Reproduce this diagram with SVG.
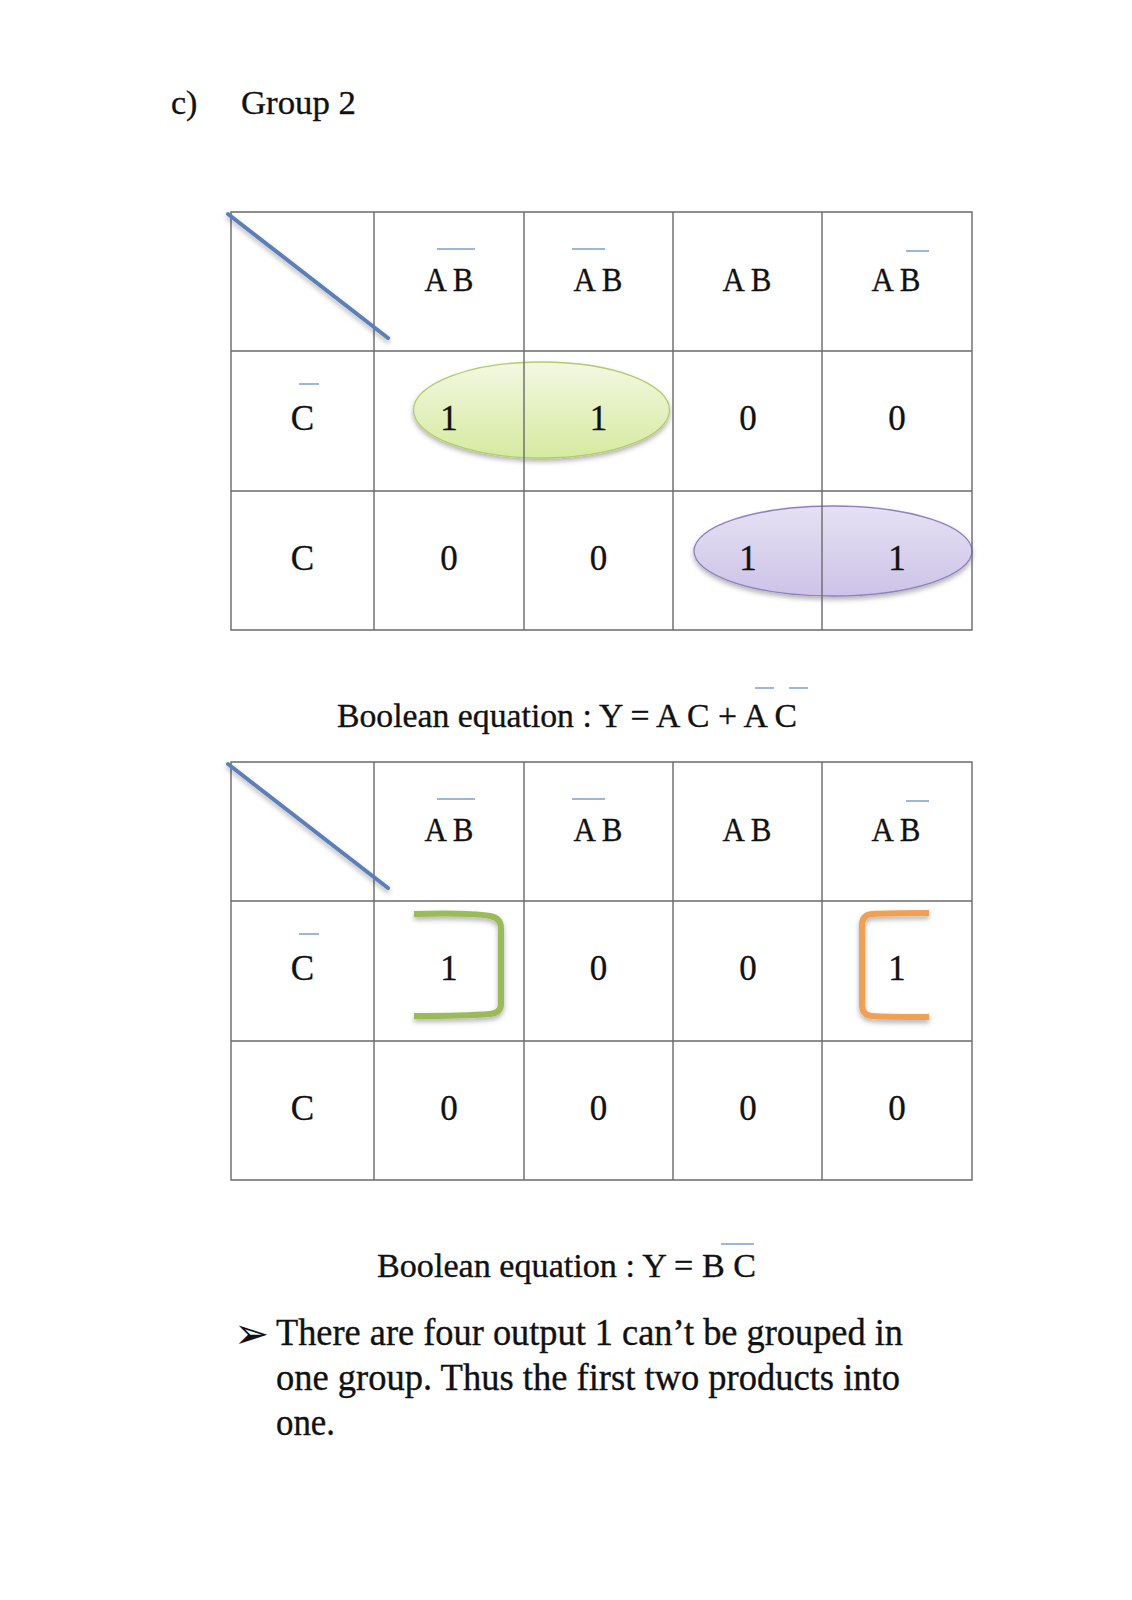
<svg xmlns="http://www.w3.org/2000/svg" width="1132" height="1600" viewBox="0 0 1132 1600">
<style>
.t{font-family:"Liberation Serif","Times New Roman",serif;fill:#111;stroke:#111;stroke-width:0.35}
.cell{font-size:35px;text-anchor:middle}
.hdr{font-size:34px;text-anchor:middle}
.grid{fill:none;stroke:#6a6a6a;stroke-width:1.4}
.ov{stroke:#7d9fcf;stroke-width:1.6;fill:none}
.diag{stroke:#5b7fb8;stroke-width:4;stroke-linecap:round;fill:none}
.eq{font-size:34px}
.body{font-size:37px}
</style>
<defs>
<linearGradient id="gG" x1="0" y1="0" x2="0" y2="1">
<stop offset="0" stop-color="#f3f8e2"/>
<stop offset="1" stop-color="#d6eaa0"/>
</linearGradient>
<linearGradient id="gP" x1="0" y1="0" x2="0" y2="1">
<stop offset="0" stop-color="#e6e1f3"/>
<stop offset="1" stop-color="#cdc3e8"/>
</linearGradient>
<filter id="sh" x="-20%" y="-20%" width="140%" height="150%">
<feDropShadow dx="0" dy="3" stdDeviation="2.5" flood-color="#000" flood-opacity="0.3"/>
</filter>
</defs>
<rect width="1132" height="1600" fill="#fff"/>

<g id="title">
<text class="t" x="171" y="114" font-size="34">c)</text>
<text class="t" x="241" y="114" font-size="34" textLength="115" lengthAdjust="spacingAndGlyphs">Group 2</text>
</g>

<g id="kmap1">
<ellipse cx="541.5" cy="410" rx="128" ry="48" fill="url(#gG)" stroke="#b3cc6a" stroke-width="1.3" filter="url(#sh)"/>
<ellipse cx="833" cy="551" rx="139" ry="45" fill="url(#gP)" stroke="#8c80c0" stroke-width="1.3" filter="url(#sh)"/>
<path class="grid" d="M231 212H972V630H231Z M374 212V630 M524 212V630 M673 212V630 M822 212V630 M231 351H972 M231 491H972"/>
<line class="diag" x1="228" y1="214" x2="388" y2="338" filter="url(#sh)"/>
<g class="t hdr">
<text x="449" y="291" textLength="49" lengthAdjust="spacingAndGlyphs">A B</text>
<text x="598" y="291" textLength="49" lengthAdjust="spacingAndGlyphs">A B</text>
<text x="747" y="291" textLength="49" lengthAdjust="spacingAndGlyphs">A B</text>
<text x="896" y="291" textLength="49" lengthAdjust="spacingAndGlyphs">A B</text>
</g>
<path class="ov" d="M437 249H475 M572 249H605 M906 251H929 M299 384H319"/>
<g class="t cell">
<text x="302.5" y="430">C</text>
<text x="302.5" y="570">C</text>
<text x="449" y="430">1</text>
<text x="598.5" y="430">1</text>
<text x="748" y="430">0</text>
<text x="897" y="430">0</text>
<text x="449" y="570">0</text>
<text x="598.5" y="570">0</text>
<text x="748" y="570">1</text>
<text x="897" y="570">1</text>
</g>
</g>

<g id="equation1">
<text class="t eq" x="337" y="727" textLength="460" lengthAdjust="spacingAndGlyphs">Boolean equation : Y = A C + A C</text>
<path class="ov" d="M755 688H774 M789 688H808"/>
</g>

<g id="kmap2" transform="translate(0,550)">
<path class="grid" d="M231 212H972V630H231Z M374 212V630 M524 212V630 M673 212V630 M822 212V630 M231 351H972 M231 491H972"/>
<line class="diag" x1="228" y1="214" x2="388" y2="338" filter="url(#sh)"/>
<path d="M414 364 C450 363 478 364 490 366 Q501 368 501 378 L501 454 Q501 463 490 464 C478 465 450 466 414 466" fill="none" stroke="#9bbb59" stroke-width="6" filter="url(#sh)"/>
<path d="M929 363 C905 363 884 363 872 364 Q862 365 862 375 L862 455 Q862 465 872 466 C884 467 905 467 929 467" fill="none" stroke="#f0a055" stroke-width="6" filter="url(#sh)"/>
<g class="t hdr">
<text x="449" y="291" textLength="49" lengthAdjust="spacingAndGlyphs">A B</text>
<text x="598" y="291" textLength="49" lengthAdjust="spacingAndGlyphs">A B</text>
<text x="747" y="291" textLength="49" lengthAdjust="spacingAndGlyphs">A B</text>
<text x="896" y="291" textLength="49" lengthAdjust="spacingAndGlyphs">A B</text>
</g>
<path class="ov" d="M437 249H475 M572 249H605 M906 251H929 M299 384H319"/>
<g class="t cell">
<text x="302.5" y="430">C</text>
<text x="302.5" y="570">C</text>
<text x="449" y="430">1</text>
<text x="598.5" y="430">0</text>
<text x="748" y="430">0</text>
<text x="897" y="430">1</text>
<text x="449" y="570">0</text>
<text x="598.5" y="570">0</text>
<text x="748" y="570">0</text>
<text x="897" y="570">0</text>
</g>
</g>

<g id="equation2">
<text class="t eq" x="377" y="1277" textLength="379" lengthAdjust="spacingAndGlyphs">Boolean equation : Y = B C</text>
<path class="ov" d="M721 1244H754"/>
</g>

<g id="note">
<text x="234" y="1348" font-family="DejaVu Sans, sans-serif" font-size="42" fill="#111">➢</text>
<text class="t body" x="276" y="1345" textLength="627" lengthAdjust="spacingAndGlyphs">There are four output 1 can’t be grouped in</text>
<text class="t body" x="276" y="1390" textLength="624" lengthAdjust="spacingAndGlyphs">one group. Thus the first two products into</text>
<text class="t body" x="276" y="1435" textLength="59" lengthAdjust="spacingAndGlyphs">one.</text>
</g>
</svg>
